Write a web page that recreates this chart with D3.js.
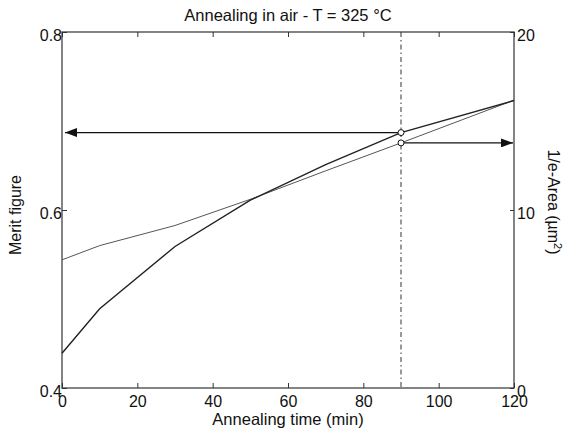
<!DOCTYPE html>
<html>
<head>
<meta charset="utf-8">
<script src="https://cdn.jsdelivr.net/npm/d3@7"></script>
<style>
  body { margin: 0; background: #fff; }
  text { font-family: "Liberation Sans", Arial, sans-serif; fill: #111; }
</style>
</head>
<body>
<div id="container"></div>
<script>
/* CONSTANTS AND GLOBALS */
const width = 563,
  height = 428,
  margin = { top: 32, bottom: 40, left: 62, right: 49 }

// DATA
const times = [0, 10, 30, 50, 70, 90, 120];
const merit = [0.439, 0.489, 0.559, 0.611, 0.651, 0.687, 0.723];
const area = [7.2, 8.0, 9.13, 10.6, 12.2, 13.77, 16.17];
const xTicks = [0, 20, 40, 60, 80, 100, 120];
const leftTicks = [0.4, 0.6, 0.8];
const rightTicks = [0, 10, 20];
const markTime = 90;

// SCALES
const xScale = d3.scaleLinear()
  .domain([0, 120])
  .range([margin.left, width - margin.right])

const yLeft = d3.scaleLinear()
  .domain([0.4, 0.8])
  .range([height - margin.bottom, margin.top])

const yRight = d3.scaleLinear()
  .domain([0, 20])
  .range([height - margin.bottom, margin.top])

// CREATE SVG ELEMENT
const svg = d3.select("#container")
  .append("svg")
  .attr("width", width)
  .attr("height", height)

svg.append("defs").append("marker")
  .attr("id", "head")
  .attr("viewBox", "0 0 12 9")
  .attr("refX", 12)
  .attr("refY", 4.5)
  .attr("markerWidth", 12)
  .attr("markerHeight", 9)
  .attr("markerUnits", "userSpaceOnUse")
  .attr("orient", "auto")
  .append("path")
  .attr("d", "M0,0L12,4.5L0,9Z")
  .attr("fill", "#111")

// BUILD AND CALL AXES (ticks inward, matlab style)
const axisStyle = g => {
  g.select(".domain").remove();
  g.selectAll("line").attr("stroke", "#333");
  g.selectAll("text").attr("font-size", 16).attr("fill", "#111")
    .attr("font-family", "Liberation Sans, Arial, sans-serif");
}

svg.append("g")
  .attr("transform", `translate(0, ${height - margin.bottom})`)
  .call(d3.axisBottom(xScale).tickValues(xTicks).tickSizeInner(-5).tickSizeOuter(0).tickPadding(8))
  .call(axisStyle)

svg.append("g")
  .attr("transform", `translate(0, ${margin.top})`)
  .call(d3.axisTop(xScale).tickValues(xTicks).tickSizeInner(-5).tickSizeOuter(0).tickFormat(""))
  .call(axisStyle)

svg.append("g")
  .attr("transform", `translate(${margin.left}, 0)`)
  .call(d3.axisLeft(yLeft).tickValues(leftTicks).tickSizeInner(-5).tickSizeOuter(0).tickPadding(0).tickFormat(d3.format(".1f")))
  .call(axisStyle)
  .selectAll("text").attr("dy", "0.52em")

svg.append("g")
  .attr("transform", `translate(${width - margin.right}, 0)`)
  .call(d3.axisRight(yRight).tickValues(rightTicks).tickSizeInner(-4).tickSizeOuter(0).tickPadding(3))
  .call(axisStyle)
  .selectAll("text").attr("dy", "0.52em")

// box
svg.append("rect")
  .attr("x", margin.left)
  .attr("y", margin.top)
  .attr("width", width - margin.left - margin.right)
  .attr("height", height - margin.top - margin.bottom)
  .attr("fill", "none")
  .attr("stroke", "#333")
  .attr("stroke-width", 1.2)

// DRAW LINES
const meritLine = d3.line()
  .x((d, i) => xScale(times[i]))
  .y(d => yLeft(d));

const areaLine = d3.line()
  .x((d, i) => xScale(times[i]))
  .y(d => yRight(d));

svg.append("path")
  .datum(area)
  .attr("fill", "none")
  .attr("stroke", "#555")
  .attr("stroke-width", 1)
  .attr("d", areaLine);

svg.append("path")
  .datum(merit)
  .attr("fill", "none")
  .attr("stroke", "#222")
  .attr("stroke-width", 1.4)
  .attr("d", meritLine);

// dash-dot marker line at t = 90
svg.append("line")
  .attr("x1", xScale(markTime)).attr("x2", xScale(markTime))
  .attr("y1", yLeft(0.8)).attr("y2", yLeft(0.4))
  .attr("stroke", "#333")
  .attr("stroke-width", 1)
  .attr("stroke-dasharray", "5,3,1.5,3")

// arrows to the axes
const meritAt = merit[times.indexOf(markTime)];
const areaAt = area[times.indexOf(markTime)];

svg.append("line")
  .attr("x1", xScale(markTime) - 3).attr("x2", xScale(0) + 3)
  .attr("y1", yLeft(meritAt)).attr("y2", yLeft(meritAt))
  .attr("stroke", "#111")
  .attr("stroke-width", 1.2)
  .attr("marker-end", "url(#head)")

svg.append("line")
  .attr("x1", xScale(markTime) + 3).attr("x2", xScale(120) - 1)
  .attr("y1", yRight(areaAt)).attr("y2", yRight(areaAt))
  .attr("stroke", "#111")
  .attr("stroke-width", 1.2)
  .attr("marker-end", "url(#head)")

svg.append("circle")
  .attr("cx", xScale(markTime)).attr("cy", yLeft(meritAt)).attr("r", 3)
  .attr("fill", "#fff").attr("stroke", "#111").attr("stroke-width", 1)

svg.append("circle")
  .attr("cx", xScale(markTime)).attr("cy", yRight(areaAt)).attr("r", 3)
  .attr("fill", "#fff").attr("stroke", "#111").attr("stroke-width", 1)

// TITLES AND LABELS
svg.append("text")
  .attr("x", (margin.left + width - margin.right) / 2)
  .attr("y", 21)
  .attr("text-anchor", "middle")
  .attr("font-size", 16.5)
  .text("Annealing in air - T = 325 °C")

svg.append("text")
  .attr("x", (margin.left + width - margin.right) / 2)
  .attr("y", 425)
  .attr("text-anchor", "middle")
  .attr("font-size", 16.5)
  .text("Annealing time (min)")

svg.append("text")
  .attr("transform", `translate(21, 215) rotate(-90)`)
  .attr("text-anchor", "middle")
  .attr("font-size", 16)
  .text("Merit figure")

const rightLabel = svg.append("text")
  .attr("transform", `translate(548, 202) rotate(90)`)
  .attr("text-anchor", "middle")
  .attr("font-size", 16)

rightLabel.append("tspan").text("1/e-Area (µm")
rightLabel.append("tspan").attr("baseline-shift", "super").attr("font-size", 11).text("2")
rightLabel.append("tspan").text(")")
</script>
</body>
</html>
